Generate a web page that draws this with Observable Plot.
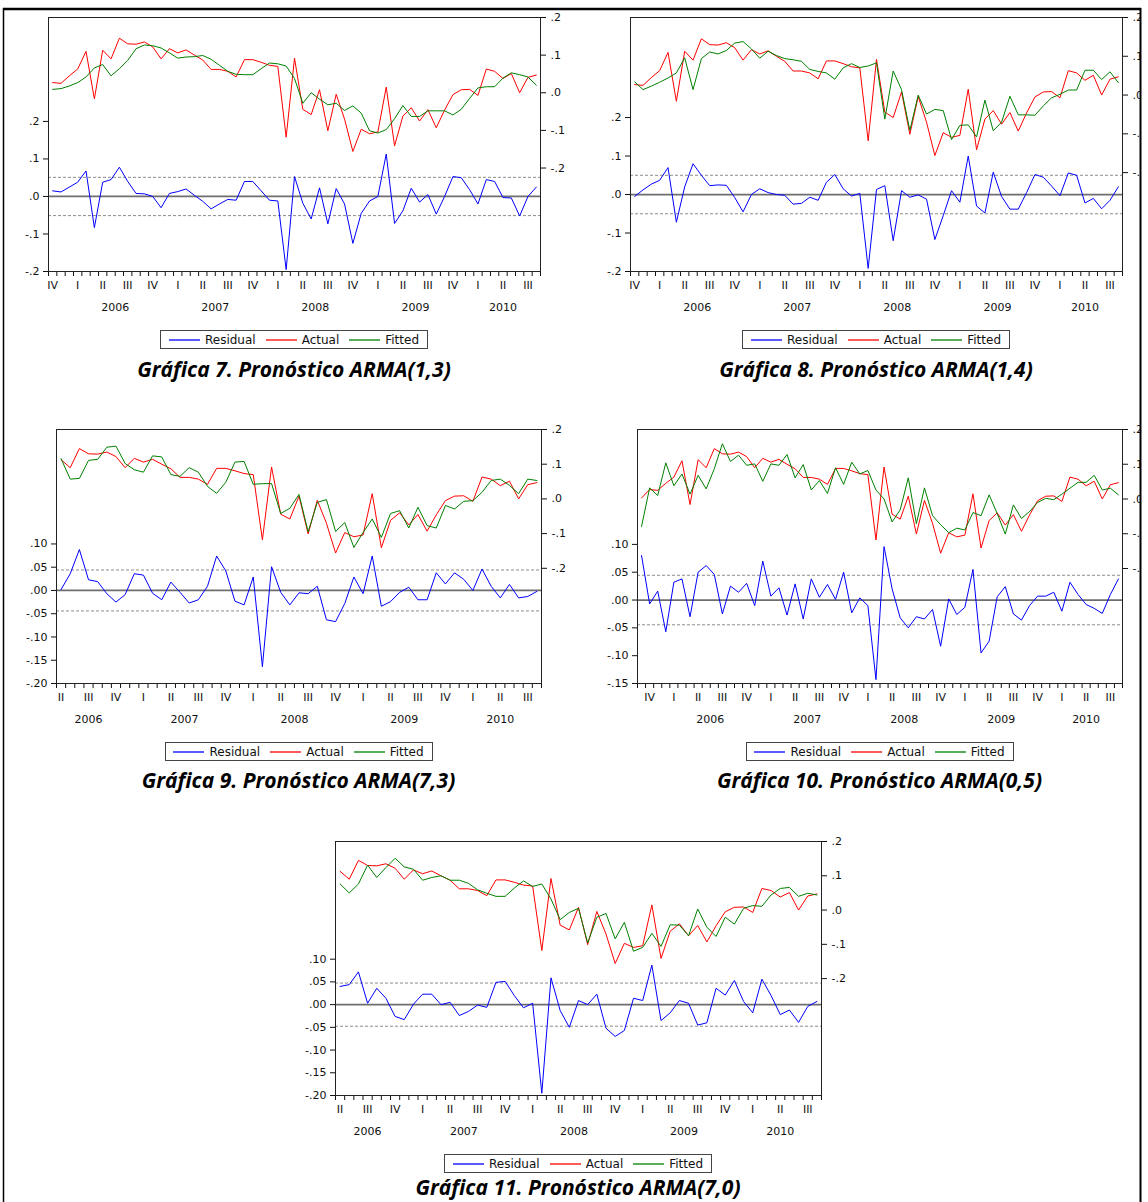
<!DOCTYPE html>
<html><head><meta charset="utf-8">
<script src="https://cdn.jsdelivr.net/npm/d3@7"></script>
<script src="https://cdn.jsdelivr.net/npm/@observablehq/plot@0.6"></script>
<style>
html,body{margin:0;padding:0;background:#fff;}
#page{position:relative;width:1148px;height:1202px;overflow:hidden;background:#fff;}
.layer{position:absolute;display:block;}
.legend{position:absolute;box-sizing:border-box;height:19px;border:1px solid #444;background:#fff;display:flex;align-items:center;justify-content:center;font:12px "DejaVu Sans","Liberation Sans",sans-serif;color:#111;white-space:nowrap;}
.legend svg{display:inline-block;margin:0 5px 0 10px;}
.legend svg.first{margin-left:0;}
</style></head><body><div id="page"></div>
<script>
// Actual series (Sep 2005 – Aug 2010), shared by all models
const actual = [0.003, 0.027, 0.025, 0.045, 0.063, 0.110, -0.016, 0.113, 0.090, 0.145,
 0.130, 0.129, 0.135, 0.122, 0.090, 0.117, 0.106, 0.114, 0.100, 0.087,
 0.062, 0.062, 0.057, 0.042, 0.088, 0.088, 0.081, 0.073, 0.070, -0.118,
 0.092, -0.044, -0.058, 0.008, -0.101, -0.004, -0.070, -0.156, -0.097, -0.109,
 -0.104, 0.015, -0.141, -0.062, -0.040, -0.075, -0.045, -0.093, -0.046, -0.005,
 0.008, 0.009, -0.007, 0.063, 0.057, 0.038, 0.051, 0.000, 0.041, 0.047];

// ARMA(1,3): Oct 2005 – Aug 2010
const fitted7 = [0.009, 0.011, 0.018, 0.027, 0.042, 0.066, 0.075, 0.045, 0.064, 0.086,
 0.117, 0.127, 0.125, 0.119, 0.106, 0.092, 0.095, 0.096, 0.099, 0.089,
 0.073, 0.057, 0.049, 0.048, 0.048, 0.064, 0.079, 0.077, 0.071, 0.038,
 -0.028, 0.000, -0.017, -0.032, -0.028, -0.047, -0.035, -0.054, -0.101, -0.107,
 -0.098, -0.069, -0.034, -0.063, -0.063, -0.048, -0.048, -0.048, -0.059, -0.044,
 -0.015, 0.013, 0.016, 0.016, 0.039, 0.053, 0.048, 0.042, 0.020];
const resid7 = [0.015, 0.012, 0.025, 0.038, 0.068, -0.083, 0.038, 0.045, 0.078, 0.040,
 0.008, 0.007, 0.000, -0.030, 0.008, 0.013, 0.020, 0.003, -0.013, -0.033,
 -0.020, -0.008, -0.010, 0.040, 0.040, 0.015, -0.010, -0.012, -0.195, 0.053,
 -0.018, -0.060, 0.023, -0.073, 0.021, -0.020, -0.125, -0.045, -0.012, 0.000,
 0.113, -0.072, -0.038, 0.022, -0.015, 0.005, -0.047, 0.000, 0.053, 0.050,
 0.018, -0.020, 0.045, 0.040, -0.003, -0.004, -0.052, 0.000, 0.025];

// ARMA(1,4): Oct 2005 – Aug 2010
const fitted8 = [0.034, 0.014, 0.023, 0.033, 0.044, 0.057, 0.096, 0.014, 0.094, 0.111,
 0.106, 0.115, 0.134, 0.138, 0.119, 0.095, 0.113, 0.102, 0.094, 0.091,
 0.087, 0.066, 0.061, 0.057, 0.041, 0.070, 0.081, 0.071, 0.075, 0.083,
 -0.062, 0.062, 0.014, -0.091, 0.000, -0.049, -0.037, -0.040, -0.115, -0.078,
 -0.077, -0.108, -0.013, -0.092, -0.070, -0.003, -0.051, -0.051, -0.052, -0.028,
 -0.007, 0.002, 0.013, 0.013, 0.064, 0.064, 0.040, 0.060, 0.032];
const resid8 = [-0.005, 0.012, 0.027, 0.037, 0.070, -0.072, 0.020, 0.080, 0.050, 0.023,
 0.025, 0.024, -0.008, -0.045, 0.000, 0.015, 0.005, 0.000, -0.002, -0.025,
 -0.023, -0.007, -0.015, 0.032, 0.052, 0.015, -0.004, 0.003, -0.192, 0.013,
 0.023, -0.120, 0.010, -0.007, -0.001, -0.012, -0.117, -0.055, 0.010, -0.020,
 0.100, -0.030, -0.048, 0.058, -0.005, -0.038, -0.038, 0.005, 0.052, 0.045,
 0.022, -0.003, 0.056, 0.050, -0.022, -0.010, -0.037, -0.015, 0.020];

// ARMA(7,3): Apr 2006 – Aug 2010
const fitted9 = [0.116, 0.057, 0.059, 0.111, 0.114, 0.149, 0.152, 0.102, 0.084, 0.077,
 0.124, 0.121, 0.070, 0.065, 0.090, 0.077, 0.036, 0.016, 0.048, 0.106,
 0.108, 0.042, 0.044, 0.044, -0.042, -0.027, 0.013, -0.095, -0.010, -0.002,
 -0.094, -0.068, -0.140, -0.097, -0.058, -0.111, -0.042, -0.034, -0.084, -0.024,
 -0.077, -0.084, -0.019, -0.029, -0.007, -0.005, 0.019, 0.053, 0.057, 0.039,
 0.015, 0.057, 0.053];
const resid9 = [0.002, 0.036, 0.088, 0.023, 0.019, -0.007, -0.025, -0.009, 0.036, 0.033,
 -0.006, -0.020, 0.018, -0.004, -0.027, -0.020, 0.009, 0.074, 0.042, -0.023,
 -0.031, 0.029, -0.164, 0.051, -0.004, -0.031, -0.005, -0.007, 0.009, -0.063,
 -0.067, -0.028, 0.029, -0.007, 0.074, -0.034, -0.024, -0.004, 0.007, -0.020,
 -0.020, 0.038, 0.014, 0.038, 0.024, 0.000, 0.046, 0.009, -0.016, 0.013,
 -0.016, -0.013, -0.002];

// ARMA(0,5): Sep 2005 – Aug 2010
const fitted10 = [-0.079, 0.032, 0.010, 0.104, 0.038, 0.072, 0.014, 0.068, 0.029, 0.087,
 0.159, 0.108, 0.126, 0.097, 0.101, 0.051, 0.101, 0.097, 0.128, 0.061,
 0.099, 0.026, 0.053, 0.016, 0.090, 0.042, 0.106, 0.072, 0.082, 0.026,
 0.000, -0.066, -0.031, 0.061, -0.071, 0.032, -0.048, -0.074, -0.097, -0.084,
 -0.089, -0.039, -0.048, 0.012, -0.042, -0.101, -0.017, -0.056, -0.036, -0.010,
 0.002, -0.002, 0.014, 0.031, 0.048, 0.048, 0.068, 0.026, 0.031, 0.012];
const resid10 = [0.080, -0.007, 0.016, -0.057, 0.032, 0.038, -0.030, 0.050, 0.062, 0.046,
 -0.025, 0.025, 0.014, 0.030, -0.010, 0.070, 0.007, 0.022, -0.027, 0.029,
 -0.034, 0.038, 0.005, 0.028, 0.001, 0.050, -0.023, 0.004, -0.010, -0.143,
 0.096, 0.020, -0.032, -0.050, -0.030, -0.034, -0.017, -0.083, 0.002, -0.026,
 -0.013, 0.055, -0.095, -0.074, 0.006, 0.024, -0.025, -0.036, -0.010, 0.007,
 0.007, 0.014, -0.020, 0.032, 0.010, -0.008, -0.015, -0.024, 0.010, 0.038];

// ARMA(7,0): Apr 2006 – Aug 2010
const fitted11 = [0.076, 0.050, 0.076, 0.131, 0.095, 0.124, 0.151, 0.126, 0.119, 0.087,
 0.095, 0.100, 0.087, 0.087, 0.078, 0.059, 0.049, 0.040, 0.040, 0.064,
 0.085, 0.069, 0.076, 0.032, -0.028, -0.007, 0.005, -0.096, -0.021, -0.010,
 -0.084, -0.036, -0.120, -0.109, -0.068, -0.106, -0.043, -0.044, -0.075, 0.003,
 -0.050, -0.077, -0.021, -0.041, 0.005, 0.013, 0.011, 0.044, 0.063, 0.066,
 0.040, 0.049, 0.044];
const resid11 = [0.040, 0.044, 0.072, 0.003, 0.036, 0.014, -0.026, -0.033, 0.001, 0.023,
 0.023, 0.000, 0.005, -0.024, -0.015, -0.001, -0.006, 0.049, 0.051, 0.020,
 -0.007, 0.003, -0.195, 0.059, -0.013, -0.050, 0.009, 0.000, 0.023, -0.052,
 -0.070, -0.057, 0.014, 0.009, 0.087, -0.035, -0.018, 0.009, 0.003, -0.045,
 -0.040, 0.036, 0.021, 0.053, 0.007, -0.018, 0.056, 0.020, -0.022, -0.012,
 -0.039, -0.004, 0.007];

// standard-error bands (dashed lines)
const seBands = [0.051, 0.050, 0.044, 0.0445, 0.0475];

// tick labels
const yearLabels = [2006, 2007, 2008, 2009, 2010];
const quarterLabels = ["I", "II", "III", "IV"];
const ticksTenths = [-0.2, -0.1, 0, 0.1, 0.2];
const ticksFifths9 = [-0.2, -0.15, -0.1, -0.05, 0, 0.05, 0.1];
const ticksFifths10 = [-0.15, -0.1, -0.05, 0, 0.05, 0.1];
const legendNames = ["Residual", "Actual", "Fitted"];
const titles = ["Gráfica 7. Pronóstico ARMA(1,3)", "Gráfica 8. Pronóstico ARMA(1,4)",
  "Gráfica 9. Pronóstico ARMA(7,3)", "Gráfica 10. Pronóstico ARMA(0,5)", "Gráfica 11. Pronóstico ARMA(7,0)"];

const COLORS = {resid: "#0000ff", actual: "#ff0000", fitted: "#008000"};
const FONT = '"DejaVu Sans","Liberation Sans",sans-serif';

const panels = [
  {title: titles[0], startYear: 2005, startMonth: 10, actual: actual.slice(1), fitted: fitted7, resid: resid7, se: seBands[0],
   fx: [48, 540], fy: [17, 271], yL: [-0.2, 0.477], yR: [-0.475, 0.2], lt: ticksTenths, ld: 1, tb: 377},
  {title: titles[1], startYear: 2005, startMonth: 10, actual: actual.slice(1), fitted: fitted8, resid: resid8, se: seBands[1],
   fx: [630, 1122], fy: [17, 271], yL: [-0.2, 0.46], yR: [-0.455, 0.2], lt: ticksTenths, ld: 1, tb: 377},
  {title: titles[2], startYear: 2006, startMonth: 4, actual: actual.slice(7), fitted: fitted9, resid: resid9, se: seBands[2],
   fx: [56, 541], fy: [429, 683], yL: [-0.2, 0.346], yR: [-0.532, 0.2], lt: ticksFifths9, ld: 2, tb: 788},
  {title: titles[3], startYear: 2005, startMonth: 9, actual: actual, fitted: fitted10, resid: resid10, se: seBands[3],
   fx: [637, 1122], fy: [429, 683], yL: [-0.15, 0.3065], yR: [-0.531, 0.2], lt: ticksFifths10, ld: 2, tb: 788},
  {title: titles[4], startYear: 2006, startMonth: 4, actual: actual.slice(7), fitted: fitted11, resid: resid11, se: seBands[4],
   fx: [335, 821], fy: [841, 1095], yL: [-0.2, 0.359], yR: [-0.541, 0.2], lt: ticksFifths9, ld: 2, tb: 1195}
];

function fmt(n) {
  return d => (d < 0 ? "-" : "") + Math.abs(d).toFixed(n).replace(/^0/, "");
}

const page = document.getElementById("page");

function drawPanel(p) {
  const N = p.resid.length;
  const rows = d3.range(N).map(i => ({i, resid: p.resid[i], actual: p.actual[i], fitted: p.fitted[i]}));
  const bounds = d3.range(N + 1).map(k => k - 0.5);
  const qTicks = [];
  rows.forEach(r => {
    const m = p.startMonth - 1 + r.i;
    const month = m % 12, year = p.startYear + Math.floor(m / 12);
    if (month % 3 === 0) qTicks.push({i: r.i, label: quarterLabels[month / 3], year});
  });
  const yTicks = yearLabels.map(y => {
    const q = qTicks.filter(d => d.year === y);
    return q.length >= 2 ? {x: d3.mean(q, d => d.i), label: String(y)} : null;
  }).filter(Boolean);
  const qMap = new Map(qTicks.map(d => [d.i, d.label]));
  const yMap = new Map(yTicks.map(d => [d.x, d.label]));

  const mL = 50, mR = 50, mT = 6, mB = 48;
  const W = p.fx[1] - p.fx[0] + mL + mR, H = p.fy[1] - p.fy[0] + mT + mB;
  const common = {
    width: W, height: H, marginLeft: mL, marginRight: mR, marginTop: mT, marginBottom: mB,
    x: {domain: [-0.5, N - 0.5], axis: null},
    style: {fontFamily: FONT, fontSize: "11px", background: "transparent", color: "#111", overflow: "visible"}
  };

  const A = Plot.plot({
    ...common,
    y: {domain: p.yL, axis: null},
    marks: [
      Plot.ruleY([-p.se, p.se], {stroke: "#8c8c8c", strokeDasharray: "3,2", strokeWidth: 1}),
      Plot.ruleY([0], {stroke: "#6e6e6e", strokeWidth: 1.7}),
      Plot.lineY(rows, {x: "i", y: "resid", stroke: COLORS.resid, strokeWidth: 1}),
      Plot.axisY({ticks: p.lt, tickFormat: fmt(p.ld), tickSize: 5, tickPadding: 4, anchor: "left", label: null}),
      Plot.axisX({ticks: bounds, tickSize: 5, tickFormat: () => "", label: null, anchor: "bottom"}),
      Plot.axisX({ticks: qTicks.map(d => d.i), tickSize: 0, tickPadding: 10, tickFormat: d => qMap.get(d), label: null, anchor: "bottom"}),
      Plot.axisX({ticks: yTicks.map(d => d.x), tickSize: 0, tickPadding: 32, tickFormat: d => yMap.get(d), label: null, anchor: "bottom"}),
      Plot.frame({stroke: "#222", strokeWidth: 1})
    ]
  });
  const B = Plot.plot({
    ...common,
    y: {domain: p.yR, axis: null},
    marks: [
      Plot.lineY(rows, {x: "i", y: "actual", stroke: COLORS.actual, strokeWidth: 1}),
      Plot.lineY(rows, {x: "i", y: "fitted", stroke: COLORS.fitted, strokeWidth: 1}),
      Plot.axisY({ticks: ticksTenths, tickFormat: fmt(1), tickSize: 5, tickPadding: 5, anchor: "right", label: null})
    ]
  });
  for (const svg of [A, B]) {
    svg.classList.add("layer");
    svg.style.left = (p.fx[0] - mL) + "px";
    svg.style.top = (p.fy[0] - mT) + "px";
    page.appendChild(svg);
  }

  // legend
  const cx = (p.fx[0] + p.fx[1]) / 2;
  const lg = d3.select(page).append("div").attr("class", "legend")
    .style("width", "268px").style("left", (cx - 134) + "px").style("top", (p.fy[1] + 59) + "px");
  const cols = [COLORS.resid, COLORS.actual, COLORS.fitted];
  legendNames.forEach((name, k) => {
    const sw = lg.append("svg").attr("width", 31).attr("height", 6).attr("class", k === 0 ? "first" : null);
    sw.append("line").attr("x1", 0).attr("x2", 31).attr("y1", 3).attr("y2", 3)
      .attr("stroke", cols[k]).attr("stroke-width", 1.3);
    lg.append("span").text(name);
  });
  return {cx, baseline: p.tb, title: p.title};
}

const titleInfo = panels.map(drawPanel);

// overlay: titles and page border
const ov = d3.create("svg").attr("width", 1148).attr("height", 1202)
  .attr("class", "layer").style("left", "0px").style("top", "0px").style("pointer-events", "none");
ov.append("rect").attr("x", 1141).attr("y", 0).attr("width", 7).attr("height", 1202).attr("fill", "#fff");
ov.append("line").attr("x1", 3).attr("x2", 1141).attr("y1", 9).attr("y2", 9).attr("stroke", "#000").attr("stroke-width", 2.5);
ov.append("line").attr("x1", 3.5).attr("x2", 3.5).attr("y1", 8).attr("y2", 1202).attr("stroke", "#000").attr("stroke-width", 1.5);
ov.append("line").attr("x1", 1140.5).attr("x2", 1140.5).attr("y1", 8).attr("y2", 1202).attr("stroke", "#000").attr("stroke-width", 2);
ov.selectAll("text.t").data(titleInfo).join("text")
  .attr("x", d => d.cx).attr("y", d => d.baseline)
  .attr("text-anchor", "middle")
  .attr("font-family", '"Open Sans", Lato, sans-serif')
  .attr("font-weight", 700).attr("font-style", "italic").attr("font-size", 21)
  .attr("fill", "#000")
  .text(d => d.title);
page.appendChild(ov.node());
</script></body></html>
